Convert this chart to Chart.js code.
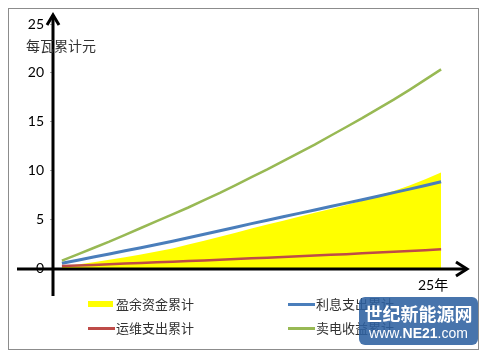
<!DOCTYPE html>
<html>
<head>
<meta charset="utf-8">
<script src="https://cdn.jsdelivr.net/npm/chart.js@4"></script>
<style>
body { margin: 0; background: #fff; }
#wrap { position: relative; width: 484px; height: 352px; font-family: "Noto Sans CJK SC", sans-serif; }
#c { position: absolute; left: 0; top: 0; }
.txt { position: absolute; white-space: nowrap; color: #333; line-height: 18px; }
.leg { position: absolute; white-space: nowrap; font-size: 13px; line-height: 16px; color: #333; }
.sym { position: absolute; }
#mark { position: absolute; left: 359px; top: 297px; width: 119px; height: 48px; border-radius: 6px;
        background: rgba(45, 97, 160, 0.88); color: #fff; text-align: center; }
#mark .a { position: absolute; left: 0; right: 0; top: 5px; font-size: 18px; font-weight: bold; line-height: 22px; }
#mark .b { position: absolute; left: 0; right: 0; top: 27px; font-size: 14px; line-height: 18px; font-family: "Liberation Sans", sans-serif; }
</style>
</head>
<body>
<div id="wrap">
  <canvas id="c" width="484" height="352"></canvas>
  <div class="txt" style="left:26px;top:36px;font-size:14px;">每瓦累计元</div>
  <div class="txt" style="left:418px;top:275px;font-size:14px;color:#000;"><span style="font-family:Lato,sans-serif;">25</span>年</div>
  <div id="legend"></div>
  <div id="mark"><div class="a">世纪新能源网</div><div class="b">www.<b>NE21</b>.com</div></div>
</div>
<script>
// years 1..25
const years = ['1','2','3','4','5','6','7','8','9','10','11','12','13','14','15','16','17','18','19','20','21','22','23','24','25'];

const surplus  = [0.10,0.35,0.60,0.85,1.10,1.38,1.68,2.00,2.40,2.80,3.20,3.60,4.05,4.45,4.85,5.25,5.65,6.05,6.45,6.90,7.40,7.90,8.45,9.10,9.80];
const interest = [0.48,0.80,1.12,1.44,1.76,2.08,2.40,2.75,3.10,3.45,3.82,4.18,4.55,4.90,5.25,5.60,5.95,6.30,6.65,7.00,7.36,7.72,8.08,8.45,8.84];
const upkeep   = [0.20,0.26,0.32,0.38,0.45,0.52,0.58,0.65,0.72,0.78,0.85,0.92,0.99,1.06,1.13,1.20,1.28,1.35,1.42,1.50,1.58,1.66,1.74,1.83,1.92];
const revenue  = [0.75,1.40,2.05,2.70,3.40,4.10,4.80,5.50,6.20,6.95,7.70,8.50,9.30,10.10,10.95,11.80,12.65,13.55,14.45,15.35,16.30,17.25,18.25,19.30,20.35];

const yTicks = [0, 5, 10, 15, 20, 25];
const seriesNames = ['盈余资金累计', '利息支出累计', '运维支出累计', '卖电收益累计'];

// frame + black arrow axes
const axesPlugin = {
  id: 'axes',
  beforeDraw(chart) {
    const ctx = chart.ctx;
    ctx.save();
    ctx.fillStyle = '#fff';
    ctx.fillRect(0, 0, chart.width, chart.height);
    ctx.strokeStyle = '#8c8c8c';
    ctx.lineWidth = 1;
    ctx.strokeRect(8.5, 8.5, 470, 341);
    ctx.restore();
  },
  afterDatasetsDraw(chart) {
    const ctx = chart.ctx;
    const a = chart.chartArea;
    const x0 = a.left - 1;
    const y0 = chart.scales.y.getPixelForValue(0) + 1;
    ctx.save();
    ctx.strokeStyle = '#000';
    ctx.lineWidth = 3;
    ctx.lineJoin = 'miter';
    ctx.beginPath();
    ctx.moveTo(x0, 296);
    ctx.lineTo(x0, 15);
    ctx.moveTo(17, y0);
    ctx.lineTo(467, y0);
    ctx.stroke();
    ctx.beginPath();
    ctx.moveTo(x0 - 6, 25);
    ctx.lineTo(x0, 15);
    ctx.lineTo(x0 + 6, 25);
    ctx.moveTo(456, y0 - 7);
    ctx.lineTo(467, y0);
    ctx.lineTo(456, y0 + 7);
    ctx.stroke();
    ctx.restore();
  }
};

const chart = new Chart(document.getElementById('c'), {
  type: 'line',
  data: {
    labels: years,
    datasets: [
      { label: seriesNames[0], data: surplus, order: 9, fill: 'origin', backgroundColor: '#FFFF00', borderWidth: 0, borderColor: 'rgba(0,0,0,0)' },
      { label: seriesNames[1], data: interest, order: 2, borderColor: '#4A7EBB', borderWidth: 3, fill: false },
      { label: seriesNames[2], data: upkeep, order: 1, borderColor: '#BE4B48', borderWidth: 2.5, fill: false },
      { label: seriesNames[3], data: revenue, order: 0, borderColor: '#98B954', borderWidth: 2.5, fill: false }
    ]
  },
  options: {
    responsive: false,
    animation: false,
    devicePixelRatio: 1,
    layout: { padding: { left: 8, right: 35, top: 24, bottom: 84 } },
    elements: { point: { radius: 0 }, line: { tension: 0 } },
    plugins: { legend: { display: false }, tooltip: { enabled: false } },
    scales: {
      x: { display: false, offset: true },
      y: {
        min: 0, max: 25,
        afterFit(s) { s.width = 46; },
        afterBuildTicks(s) { s.ticks = yTicks.map(v => ({ value: v })); },
        grid: { drawOnChartArea: false, drawTicks: true, tickLength: 4, color: '#aaa' },
        border: { display: false },
        ticks: { color: '#000', padding: 6, font: { family: 'Lato', size: 14 } }
      }
    }
  },
  plugins: [axesPlugin]
});

// legend, two columns
const legend = document.getElementById('legend');
chart.data.datasets.forEach((ds, i) => {
  const left = 88 + (i % 2) * 200;
  const top = 296 + Math.floor(i / 2) * 24;
  const sym = document.createElement('div');
  sym.className = 'sym';
  if (i === 0) {
    sym.style.cssText = 'left:' + left + 'px;top:' + (top + 5) + 'px;width:25px;height:6px;background:' + ds.backgroundColor;
  } else {
    sym.style.cssText = 'left:' + left + 'px;top:' + (top + 7) + 'px;width:27px;height:3px;background:' + ds.borderColor;
  }
  legend.appendChild(sym);
  const t = document.createElement('div');
  t.className = 'leg';
  t.style.left = (left + 28) + 'px';
  t.style.top = top + 'px';
  t.textContent = ds.label;
  legend.appendChild(t);
});
</script>
</body>
</html>
